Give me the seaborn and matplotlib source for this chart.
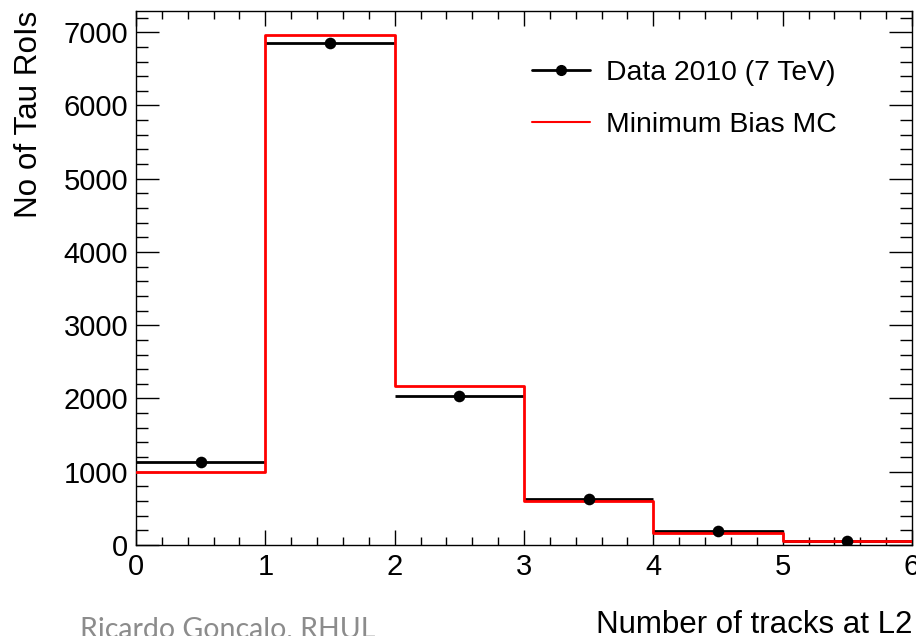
import numpy as np
import pandas as pd
import matplotlib
matplotlib.use("Agg")
import matplotlib.pyplot as plt
from matplotlib.lines import Line2D
from matplotlib.ticker import MultipleLocator
import seaborn as sns

# Number of L2 tracks per tau RoI: observed counts vs. minimum-bias simulation
bin_edges = [0, 1, 2, 3, 4, 5, 6]
n_tracks = [0.5, 1.5, 2.5, 3.5, 4.5, 5.5]
data_2010 = [1130, 6850, 2040, 627, 191, 48]
minbias_mc = [990, 6960, 2170, 596, 168, 55]

sns.set_theme(style="ticks")
plt.rcParams["font.family"] = ["Liberation Sans", "DejaVu Sans"]
plt.rcParams["text.color"] = "black"
plt.rcParams["axes.labelcolor"] = "black"
plt.rcParams["xtick.color"] = "black"
plt.rcParams["ytick.color"] = "black"

df = pd.DataFrame({"tracks": n_tracks, "data": data_2010, "mc": minbias_mc})

fig = plt.figure(figsize=(9.16, 6.36), dpi=100)
fig.patch.set_facecolor("white")
ax = fig.add_axes([136 / 916, 91 / 636, 776 / 916, 534 / 636])
ax.set_facecolor("white")

# data: horizontal bin-width bars with a dot at the bin centre
ax.errorbar(df["tracks"], df["data"], xerr=0.5, fmt="none",
            ecolor="black", elinewidth=2.0, zorder=2)

# simulation: step histogram outline
sns.histplot(data=df, x="tracks", weights="mc", bins=bin_edges,
             element="step", fill=False, color="#ff0000",
             linewidth=2.0, ax=ax, zorder=3)

sns.scatterplot(data=df, x="tracks", y="data", color="black", s=70,
                edgecolor="black", linewidth=0, ax=ax, zorder=4)

ax.set_xlim(0, 6)
ax.set_ylim(0, 7290)

ax.xaxis.set_major_locator(MultipleLocator(1))
ax.xaxis.set_minor_locator(MultipleLocator(0.2))
ax.yaxis.set_major_locator(MultipleLocator(1000))
ax.yaxis.set_minor_locator(MultipleLocator(200))

ax.tick_params(which="both", direction="in", top=True, right=True,
               colors="black", labelcolor="black", width=1.0, labelsize=21)
ax.tick_params(axis="x", which="major", length=11, pad=6)
ax.tick_params(axis="x", which="minor", length=6)
ax.tick_params(axis="y", which="major", length=16.8, pad=5.5)
ax.tick_params(axis="y", which="minor", length=8.4)

for s in ax.spines.values():
    s.set_color("black")
    s.set_linewidth(1.0)

ax.set_xlabel("Number of tracks at L2", fontsize=22.5, loc="right",
              color="black")
ax.xaxis.set_label_coords(1.0, -0.122)
ax.set_ylabel("No of Tau RoIs", fontsize=22.6, loc="top", color="black")
ax.yaxis.set_label_coords(-0.1186, 1.0)

handles = [
    Line2D([], [], color="black", lw=2.0, marker="o", markersize=7),
    Line2D([], [], color="#ff0000", lw=1.5),
]
ax.legend(handles, ["Data 2010 (7 TeV)", "Minimum Bias MC"],
          loc="upper left", bbox_to_anchor=(0.510, 0.909),
          frameon=False, fontsize=20.4, handlelength=2.05,
          handletextpad=0.57, labelspacing=0.92, borderpad=0,
          borderaxespad=0, labelcolor="black")

fig.text(80 / 916, 1 - 616 / 636, "Ricardo Goncalo, RHUL",
         fontsize=20.5, color="#8c8c8c", family=["Lato", "DejaVu Sans"],
         ha="left", va="top")

fig.savefig("out.png", dpi=100, facecolor="white")
